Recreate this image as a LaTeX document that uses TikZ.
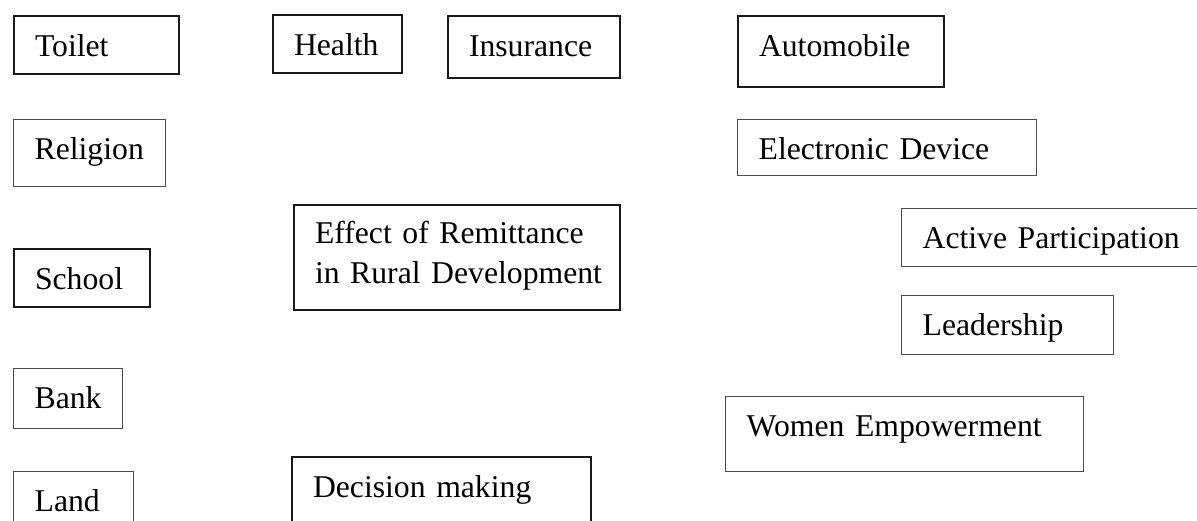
\documentclass[tikz,border=0pt]{standalone}
\usepackage{fontspec}
\setmainfont{Liberation Serif}

\begin{document}
\begin{tikzpicture}[x=1pt,y=-1pt,
  factor/.style={draw=black!70, line width=1.3pt, anchor=north west, inner xsep=21pt, inner ysep=0pt,
    text height=40pt, align=left, font=\fontsize{31.7}{36}\selectfont},
  bold factor/.style={factor, draw=black!90, line width=2pt}]
\useasboundingbox (0,0) rectangle (1197,520);

\node[bold factor, text width=123pt, text depth=18pt] (toilet) at (13,15) {Toilet};
\node[bold factor, text width=87pt, text depth=18pt] (health) at (272,14) {Health};
\node[bold factor, text width=130pt, text depth=22pt] (insurance) at (447,15) {Insurance};
\node[bold factor, text width=164pt, text depth=31pt] (automobile) at (737,15) {Automobile};

\node[factor, text width=110pt, text depth=27pt] (religion) at (13,119) {Religion};
\node[factor, text width=257pt, text depth=16pt] (electronic) at (737,119) {Electronic~Device};

\node[bold factor, text width=284pt, text height=38pt, text depth=67pt, font=\fontsize{31.7}{40}\selectfont]
  (effect) at (293,204) {\mbox{Effect of Remittance}\\\mbox{in Rural Development}};
\node[factor, text width=258pt, text depth=18pt] (active) at (901,208) {Active~Participation};

\node[bold factor, text width=94pt, text depth=18pt] (school) at (13,248) {School};
\node[factor, text width=170pt, text depth=19pt] (leadership) at (901,295) {Leadership};

\node[factor, text width=67pt, text depth=20pt] (bank) at (13,368) {Bank};
\node[factor, text width=316pt, text depth=35pt] (women) at (725,396) {Women~Empowerment};

\node[factor, text width=78pt, text depth=20pt] (land) at (13,471) {Land};
\node[bold factor, text width=257pt, text depth=35pt] (decision) at (291,456) {Decision~making};
\end{tikzpicture}
\end{document}
